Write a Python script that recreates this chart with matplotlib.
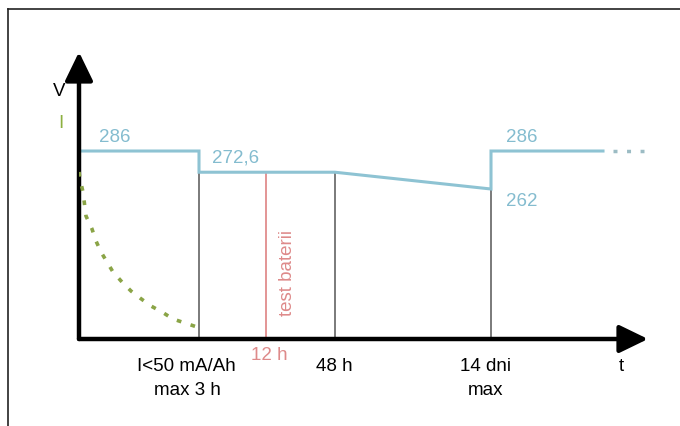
#!/usr/bin/env python
import matplotlib
matplotlib.use('Agg')
import matplotlib.pyplot as plt

plt.rcParams['font.family'] = ['Liberation Sans', 'DejaVu Sans']

# schematic time axis (positions along t, not to scale)
t_start, t_charge, t_12h, t_48h, t_14d, t_end, t_more = 0, 120, 187, 256, 412, 524, 565

# voltage levels
v_float = 286
v_rest = 272.6
v_low = 262

# blue voltage path
volt_t = [t_start, t_charge, t_charge, t_48h, t_14d, t_14d, t_end]
volt_v = [v_float, v_float, v_rest, v_rest, v_low, v_float, v_float]

# charging current decay (relative units)
cur_t = [0, 1, 4, 7, 13, 17, 22, 28, 34, 43, 52, 61, 72, 83, 94, 106, 118]
cur_i = [167, 160, 147, 123, 110, 98, 87, 77, 67, 57, 48, 41, 33, 27, 20, 16, 12]

W, H = 680, 427
fig = plt.figure(figsize=(6.8, 4.27), dpi=100)

def fx(x):
    return x / W

def fy(y):
    return 1 - y / H

# frame (top and left only)
fig.add_artist(plt.Line2D([fx(8), fx(8)], [fy(10), 0], color='#222222', lw=1.2))
fig.add_artist(plt.Line2D([fx(8), 1], [fy(10), fy(10)], color='#222222', lw=1.2))

vmin, vmax = 167.26, 375.7
ax = fig.add_axes([fx(79), fy(340), fx(680 - 79), (340 - 10) / H])
ax.set_xlim(0, 601)
ax.set_ylim(vmin, vmax)
ax.axis('off')

blue = '#8ec3d3'
ax.plot(volt_t, volt_v, color=blue, lw=2.2, solid_joinstyle='miter', zorder=3)
ax.plot([t_end + 10, t_more], [v_float, v_float], color='#9cbcc4', lw=2.5,
        linestyle=(0, (1.15, 2.75)), zorder=3)

ax.vlines([t_charge, t_48h], vmin, v_rest, color='#707070', lw=1.3, zorder=2)
ax.vlines([t_14d], vmin, v_low, color='#707070', lw=1.3, zorder=2)
ax.vlines([t_12h], vmin, v_rest, color='#e08c8c', lw=1.3, zorder=2)

ax2 = ax.twinx()
ax2.set_ylim(0, 330)
ax2.axis('off')
ax2.plot(cur_t, cur_i, color='#8aa446', lw=2.6, linestyle=(0, (1.3, 2.7)))

# axes arrows
arr = dict(arrowstyle='-|>,head_length=1.75,head_width=0.85', mutation_scale=10,
           lw=3.2, color='black', shrinkA=0, shrinkB=0)
ax.annotate('', xy=(0, (340 - 53) / 330), xytext=(0, 0), xycoords='axes fraction',
            arrowprops=arr)
ax.annotate('', xy=((648 - 79) / 601, 0), xytext=(0, 0), xycoords='axes fraction',
            arrowprops=arr)

fs = 13.5
fig.text(fx(59), fy(92), 'V', fontsize=fs, ha='center', va='center')
fig.text(fx(61), fy(124), 'I', fontsize=fs, color='#8db040', ha='center', va='center')

tblue = '#84bccf'
fig.text(fx(115), fy(137), '286', fontsize=fs, color=tblue, ha='center', va='center')
fig.text(fx(236), fy(158), '272,6', fontsize=fs, color=tblue, ha='center', va='center')
fig.text(fx(522), fy(137), '286', fontsize=fs, color=tblue, ha='center', va='center')
fig.text(fx(522), fy(201), '262', fontsize=fs, color=tblue, ha='center', va='center')

tred = '#de8a8a'
fig.text(fx(288), fy(273), 'test baterii', fontsize=fs, color=tred, rotation=90,
         ha='center', va='center')
fig.text(fx(269), fy(355), '12 h', fontsize=fs, color=tred, ha='center', va='center')

fig.text(fx(186), fy(367), 'I<50 mA/Ah', fontsize=fs, ha='center', va='center')
fig.text(fx(187), fy(391), 'max 3 h', fontsize=fs, ha='center', va='center')
fig.text(fx(334), fy(367), '48 h', fontsize=fs, ha='center', va='center')
fig.text(fx(486), fy(367), '14 dni', fontsize=fs, ha='center', va='center')
fig.text(fx(486), fy(391), 'max', fontsize=fs, ha='center', va='center')
fig.text(fx(621), fy(367), 't', fontsize=fs, ha='center', va='center')

fig.savefig('out.png', dpi=100)
